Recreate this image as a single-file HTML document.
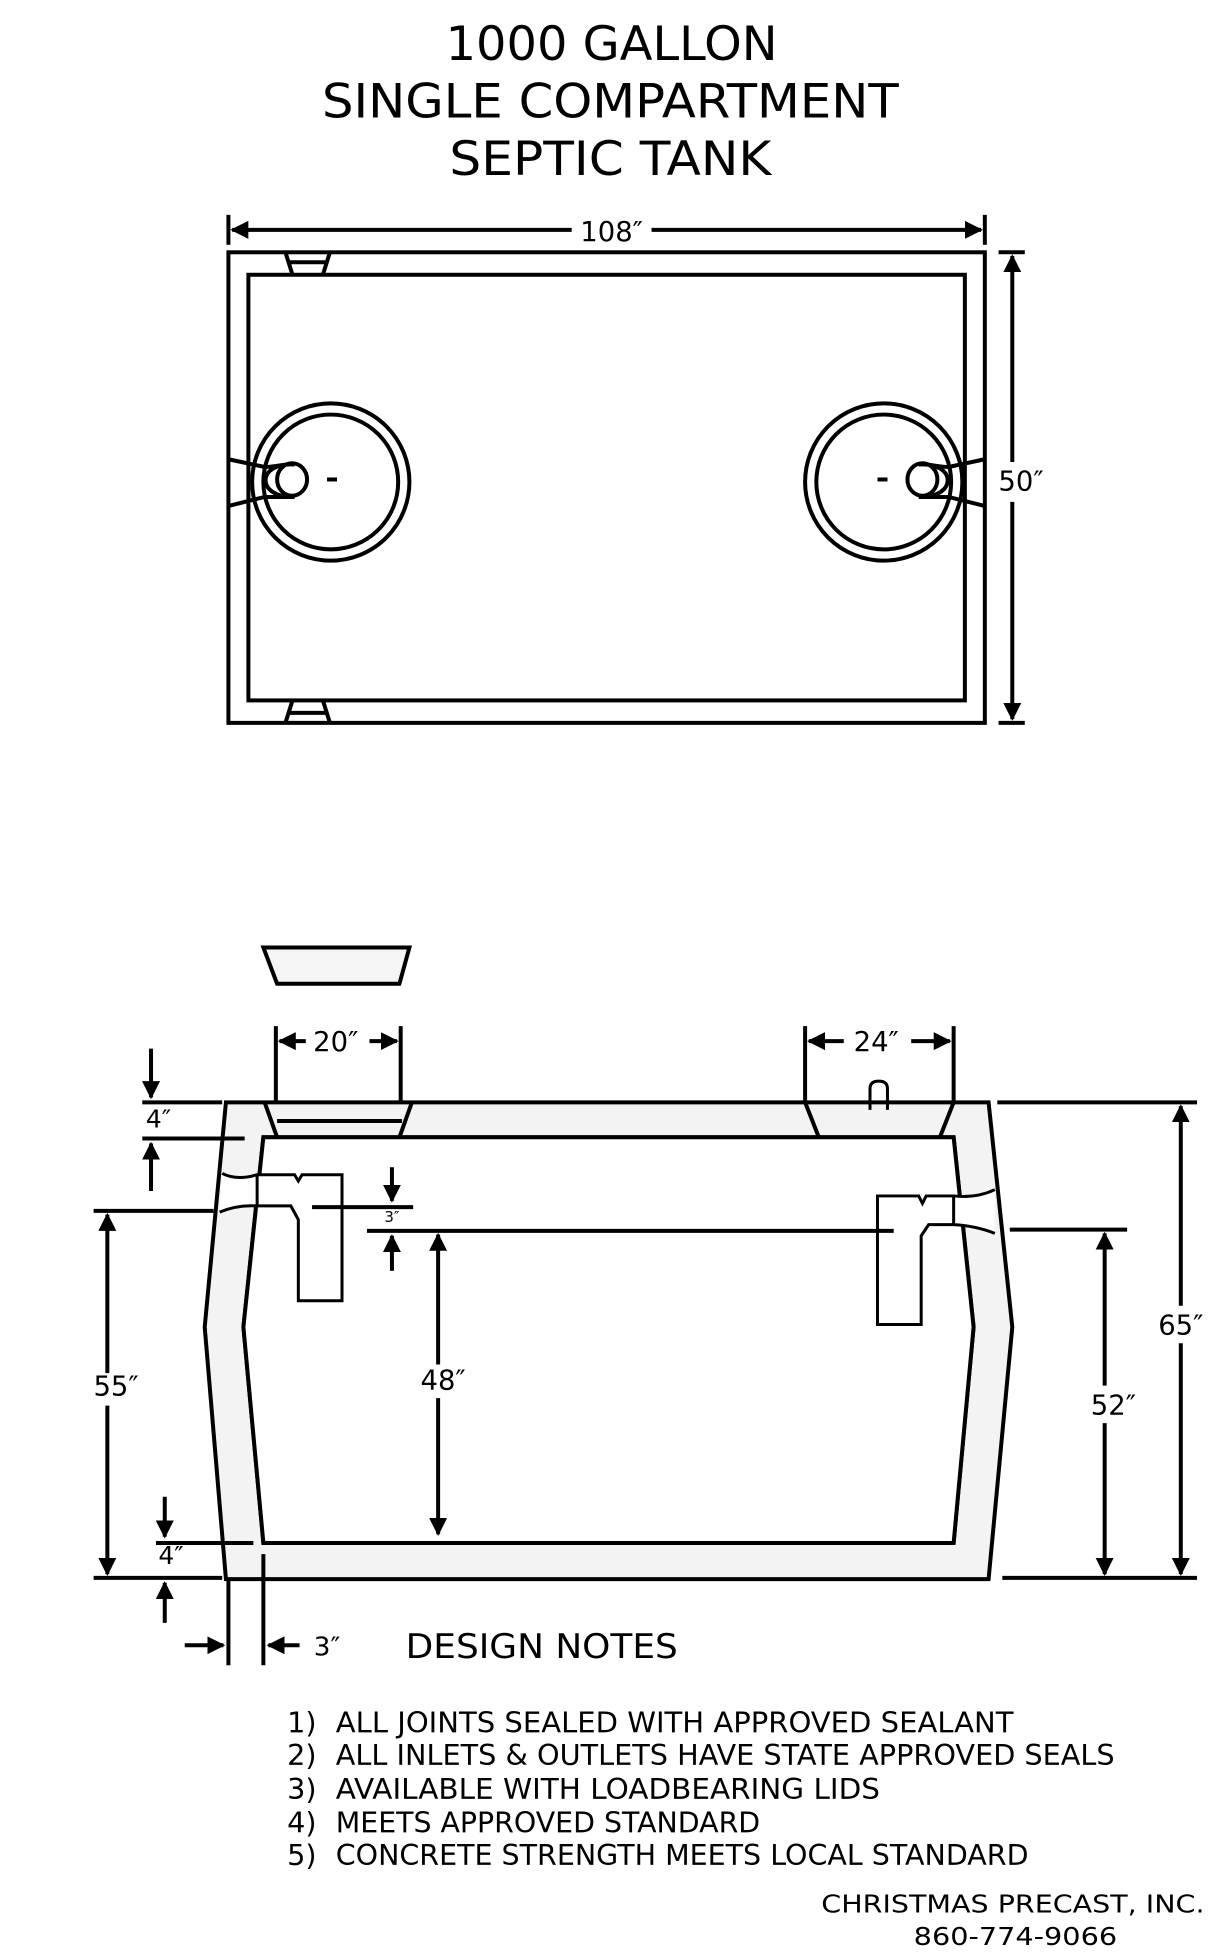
<!DOCTYPE html>
<html><head><meta charset="utf-8"><style>html,body{margin:0;padding:0;background:#fff}svg{display:block}</style></head>
<body>
<svg width="1217" height="1960" viewBox="0 0 975 1570" xmlns="http://www.w3.org/2000/svg" font-family="'DejaVu Sans','Liberation Sans',sans-serif" fill="none" stroke="#000" stroke-width="3.2">
<defs>
<marker id="a" viewBox="0 0 10 10" refX="9" refY="5" markerWidth="4.5" markerHeight="4.5" orient="auto-start-reverse"><path d="M0,0 L10,5 L0,10 z" fill="#000" stroke="none"/></marker>
</defs>
<g fill="#000" stroke="none" text-anchor="middle">
<text x="490" y="48" font-size="38" textLength="266" lengthAdjust="spacingAndGlyphs">1000 GALLON</text>
<text x="489" y="94" font-size="38" textLength="462" lengthAdjust="spacingAndGlyphs">SINGLE COMPARTMENT</text>
<text x="489" y="140" font-size="38" textLength="258" lengthAdjust="spacingAndGlyphs">SEPTIC TANK</text>
</g>
<!-- top view -->
<line x1="183" y1="172" x2="183" y2="196"/><line x1="789" y1="172" x2="789" y2="196"/>
<line x1="186" y1="184" x2="458" y2="184" marker-start="url(#a)"/>
<line x1="522" y1="184" x2="786" y2="184" marker-end="url(#a)"/>
<text x="490" y="193" font-size="22" fill="#000" stroke="none" text-anchor="middle">108″</text>
<rect x="183" y="202" width="606" height="377"/>
<rect x="199" y="220" width="574" height="341"/>
<path d="M229,203 L234,219 M264,203 L259,219 M231,210 L262,210"/>
<path d="M229,578 L234,562 M264,578 L259,562 M231,571 L262,571"/>
<line x1="800" y1="202" x2="821" y2="202"/><line x1="800" y1="579" x2="821" y2="579"/>
<line x1="811" y1="205" x2="811" y2="370" marker-start="url(#a)"/>
<line x1="811" y1="402" x2="811" y2="576" marker-end="url(#a)"/>
<text x="818" y="393" font-size="22" fill="#000" stroke="none" text-anchor="middle">50″</text>
<circle cx="265" cy="386" r="63"/><circle cx="265" cy="386" r="54"/>
<ellipse cx="234" cy="384" rx="12" ry="13"/>
<path d="M184,368 L212,374 C220,374 230,371 236,372 M184,405 L212,398 L236,398 M236,372 C205,370 205,399 236,398"/>
<line x1="262" y1="384" x2="270" y2="384"/>
<circle cx="708" cy="386" r="63"/><circle cx="708" cy="386" r="54"/>
<ellipse cx="739" cy="384" rx="12" ry="13"/>
<path d="M788,368 L760,374 C752,374 742,371 736,372 M788,405 L760,398 L736,398 M736,372 C767,370 767,399 736,398"/>
<line x1="703" y1="384" x2="711" y2="384"/>
<!-- lid -->
<path d="M211,759 L328,759 L320,788 L222,788 Z" fill="#f5f5f5"/>
<!-- side view walls -->
<path d="M181,883 L792,883 L811,1063 L792,1265 L181,1265 L164,1063 Z M211,911 L764,911 L780,1063 L764,1236 L211,1236 L195,1063 Z" fill="#f3f3f3" fill-rule="evenodd"/>
<path d="M211,911 L764,911 L780,1063 L764,1236 L211,1236 L195,1063 Z" fill="#fff"/>
<!-- openings -->
<path d="M212,883 L222,911 M330,883 L320,911 M222,898 L322,898" />
<path d="M645,883 L656,911 M764,883 L753,911" />
<path d="M697,889 L697,872 Q697,866 704,866 Q711,866 711,872 L711,889" stroke-width="2.4"/>
<!-- 20 / 24 -->
<line x1="221" y1="822" x2="221" y2="883"/><line x1="321" y1="822" x2="321" y2="883"/>
<line x1="245" y1="834" x2="224" y2="834" marker-end="url(#a)"/><line x1="296" y1="834" x2="318" y2="834" marker-end="url(#a)"/>
<text x="269" y="842" font-size="22" fill="#000" stroke="none" text-anchor="middle">20″</text>
<line x1="645" y1="822" x2="645" y2="883"/><line x1="764" y1="822" x2="764" y2="883"/>
<line x1="676" y1="834" x2="648" y2="834" marker-end="url(#a)"/><line x1="730" y1="834" x2="761" y2="834" marker-end="url(#a)"/>
<text x="702" y="842" font-size="22" fill="#000" stroke="none" text-anchor="middle">24″</text>
<!-- left inlet -->
<path d="M178,940 Q190,946 206,941 L236,941 L239,946 L242,941 L274,941 L274,1042 L239,1042 L239,977 L233,966 L206,966 Q190,965 176,971" stroke-width="2.4" fill="#fff"/>
<path d="M206,941 L206,966" stroke-width="2.4"/>
<!-- right outlet -->
<path d="M797,953 Q782,960 764,958 L742,958 L739,964 L736,958 L703,958 L703,1061 L738,1061 L738,990 L744,981 L764,981 Q782,982 797,988" stroke-width="2.4" fill="#fff"/>
<path d="M764,958 L764,981" stroke-width="2.4"/>
<!-- left 4" top -->
<line x1="114" y1="883" x2="178" y2="883"/>
<line x1="114" y1="912" x2="196" y2="912"/>
<line x1="121" y1="840" x2="121" y2="879" marker-end="url(#a)"/>
<line x1="121" y1="954" x2="121" y2="916" marker-end="url(#a)"/>
<text x="127" y="903" font-size="20" fill="#000" stroke="none" text-anchor="middle">4″</text>
<!-- 55 -->
<line x1="75" y1="970" x2="171" y2="970"/>
<line x1="86" y1="973" x2="86" y2="1100" marker-start="url(#a)"/>
<line x1="86" y1="1126" x2="86" y2="1261" marker-end="url(#a)"/>
<text x="93" y="1118" font-size="22" fill="#000" stroke="none" text-anchor="middle">55″</text>
<!-- 3" top -->
<line x1="250" y1="967" x2="331" y2="967"/>
<line x1="314" y1="935" x2="314" y2="962" marker-end="url(#a)"/>
<line x1="314" y1="1018" x2="314" y2="990" marker-end="url(#a)"/>
<text x="314" y="979" font-size="12" fill="#000" stroke="none" text-anchor="middle">3″</text>
<line x1="294" y1="986" x2="716" y2="986"/>
<!-- 48 -->
<line x1="351" y1="989" x2="351" y2="1093" marker-start="url(#a)"/>
<line x1="351" y1="1120" x2="351" y2="1229" marker-end="url(#a)"/>
<text x="355" y="1113" font-size="22" fill="#000" stroke="none" text-anchor="middle">48″</text>
<!-- bottom 4" -->
<line x1="125" y1="1236" x2="203" y2="1236"/>
<line x1="132" y1="1199" x2="132" y2="1231" marker-end="url(#a)"/>
<text x="137" y="1253" font-size="20" fill="#000" stroke="none" text-anchor="middle">4″</text>
<line x1="75" y1="1264" x2="178" y2="1264"/>
<line x1="132" y1="1300" x2="132" y2="1268" marker-end="url(#a)"/>
<!-- 3" bottom -->
<line x1="183" y1="1266" x2="183" y2="1334"/>
<line x1="211" y1="1245" x2="211" y2="1334"/>
<line x1="148" y1="1318" x2="179" y2="1318" marker-end="url(#a)"/>
<line x1="240" y1="1318" x2="215" y2="1318" marker-end="url(#a)"/>
<text x="262" y="1326" font-size="21" fill="#000" stroke="none" text-anchor="middle">3″</text>
<!-- right dims -->
<line x1="799" y1="883" x2="959" y2="883"/>
<line x1="803" y1="1264" x2="959" y2="1264"/>
<line x1="946" y1="886" x2="946" y2="1046" marker-start="url(#a)"/>
<line x1="946" y1="1076" x2="946" y2="1261" marker-end="url(#a)"/>
<text x="946" y="1069" font-size="22" fill="#000" stroke="none" text-anchor="middle">65″</text>
<line x1="809" y1="985" x2="903" y2="985"/>
<line x1="885" y1="988" x2="885" y2="1110" marker-start="url(#a)"/>
<line x1="885" y1="1140" x2="885" y2="1261" marker-end="url(#a)"/>
<text x="892" y="1133" font-size="22" fill="#000" stroke="none" text-anchor="middle">52″</text>
<!-- notes -->
<g fill="#000" stroke="none" font-size="23">
<text x="325" y="1328" font-size="27" textLength="218" lengthAdjust="spacingAndGlyphs">DESIGN NOTES</text>
<text x="230" y="1388">1)</text><text x="269" y="1388" textLength="543" lengthAdjust="spacingAndGlyphs">ALL JOINTS SEALED WITH APPROVED SEALANT</text>
<text x="230" y="1414">2)</text><text x="269" y="1414" textLength="624" lengthAdjust="spacingAndGlyphs">ALL INLETS &amp; OUTLETS HAVE STATE APPROVED SEALS</text>
<text x="230" y="1441">3)</text><text x="269" y="1441" textLength="436" lengthAdjust="spacingAndGlyphs">AVAILABLE WITH LOADBEARING LIDS</text>
<text x="230" y="1468">4)</text><text x="269" y="1468" textLength="340" lengthAdjust="spacingAndGlyphs">MEETS APPROVED STANDARD</text>
<text x="230" y="1494">5)</text><text x="269" y="1494" textLength="555" lengthAdjust="spacingAndGlyphs">CONCRETE STRENGTH MEETS LOCAL STANDARD</text>
<text x="658" y="1532" font-size="20" textLength="307" lengthAdjust="spacingAndGlyphs">CHRISTMAS PRECAST, INC.</text>
<text x="732" y="1558" font-size="20" textLength="163" lengthAdjust="spacingAndGlyphs">860-774-9066</text>
</g>
</svg>
</body></html>
